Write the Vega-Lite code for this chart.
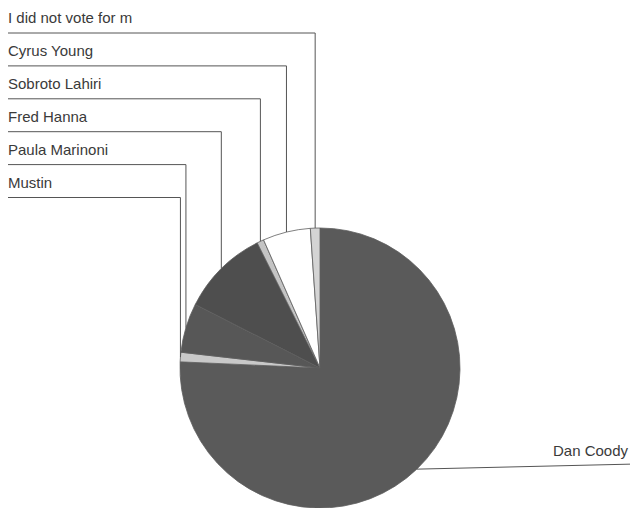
{
  "$schema": "https://vega.github.io/schema/vega-lite/v6.json",
  "width": 630,
  "height": 508,
  "autosize": {"type": "fit", "contains": "padding"},
  "padding": 0,
  "background": "white",
  "view": {"stroke": null},
  "config": {"text": {"font": "Liberation Sans"}},
  "params": [
    {"name": "cx", "value": 320},
    {"name": "cy", "value": 368},
    {"name": "r", "value": 140},
    {"name": "lx", "value": 8},
    {"name": "rx", "value": 630}
  ],
  "data": {
    "values": [
      {"candidate": "Dan Coody", "pct": 75.7, "order": 0},
      {"candidate": "Mustin", "pct": 1.1, "order": 1},
      {"candidate": "Paula Marinoni", "pct": 5.7, "order": 2},
      {"candidate": "Fred Hanna", "pct": 10.1, "order": 3},
      {"candidate": "Sobroto Lahiri", "pct": 0.8, "order": 4},
      {"candidate": "Cyrus Young", "pct": 5.5, "order": 5},
      {"candidate": "I did not vote for m", "pct": 1.1, "order": 6}
    ]
  },
  "transform": [
    {"window": [{"op": "sum", "field": "pct", "as": "cum"}], "sort": [{"field": "order", "order": "ascending"}], "frame": [null, 0]},
    {"joinaggregate": [{"op": "sum", "field": "pct", "as": "total"}]},
    {"calculate": "2 * PI * (datum.cum - datum.pct / 2) / datum.total", "as": "mid"},
    {"calculate": "cx + r * sin(datum.mid)", "as": "ex"},
    {"calculate": "cy - r * cos(datum.mid)", "as": "ey"},
    {"calculate": "33 + 32.9 * (6 - datum.order)", "as": "ly"},
    {"calculate": "lx", "as": "x0"},
    {"calculate": "rx", "as": "x1"},
    {"calculate": "datum.ey - 5", "as": "ey2"}
  ],
  "layer": [
    {
      "mark": {"type": "arc", "outerRadius": {"expr": "r"}, "x": {"expr": "cx"}, "y": {"expr": "cy"}, "stroke": "#5e5e5e", "strokeWidth": 0.8},
      "encoding": {
        "theta": {"field": "pct", "type": "quantitative", "stack": true},
        "order": {"field": "order", "type": "quantitative"},
        "color": {
          "field": "candidate",
          "type": "nominal",
          "scale": {
            "domain": ["Dan Coody", "Mustin", "Paula Marinoni", "Fred Hanna", "Sobroto Lahiri", "Cyrus Young", "I did not vote for m"],
            "range": ["#5a5a5a", "#c9c9c9", "#575757", "#4e4e4e", "#c4c4c4", "#ffffff", "#d4d4d4"]
          },
          "legend": null
        }
      }
    },
    {
      "transform": [{"filter": "datum.order > 0"}],
      "mark": {"type": "rule", "color": "#555555", "strokeWidth": 1},
      "encoding": {
        "x": {"field": "x0", "type": "quantitative", "scale": null},
        "x2": {"field": "ex"},
        "y": {"field": "ly", "type": "quantitative", "scale": null}
      }
    },
    {
      "transform": [{"filter": "datum.order > 0"}],
      "mark": {"type": "rule", "color": "#555555", "strokeWidth": 1},
      "encoding": {
        "x": {"field": "ex", "type": "quantitative", "scale": null},
        "y": {"field": "ly", "type": "quantitative", "scale": null},
        "y2": {"field": "ey"}
      }
    },
    {
      "transform": [{"filter": "datum.order > 0"}],
      "mark": {"type": "text", "align": "left", "baseline": "alphabetic", "dy": -10, "fontSize": 15, "color": "#3a3a3a"},
      "encoding": {
        "x": {"field": "x0", "type": "quantitative", "scale": null},
        "y": {"field": "ly", "type": "quantitative", "scale": null},
        "text": {"field": "candidate"}
      }
    },
    {
      "transform": [{"filter": "datum.order == 0"}],
      "mark": {"type": "rule", "color": "#555555", "strokeWidth": 1},
      "encoding": {
        "x": {"field": "ex", "type": "quantitative", "scale": null},
        "y": {"field": "ey", "type": "quantitative", "scale": null},
        "x2": {"field": "x1"},
        "y2": {"field": "ey2"}
      }
    },
    {
      "transform": [{"filter": "datum.order == 0"}],
      "mark": {"type": "text", "align": "right", "baseline": "alphabetic", "dx": -2, "dy": -13, "fontSize": 15, "color": "#3a3a3a"},
      "encoding": {
        "x": {"field": "x1", "type": "quantitative", "scale": null},
        "y": {"field": "ey", "type": "quantitative", "scale": null},
        "text": {"field": "candidate"}
      }
    }
  ]
}
